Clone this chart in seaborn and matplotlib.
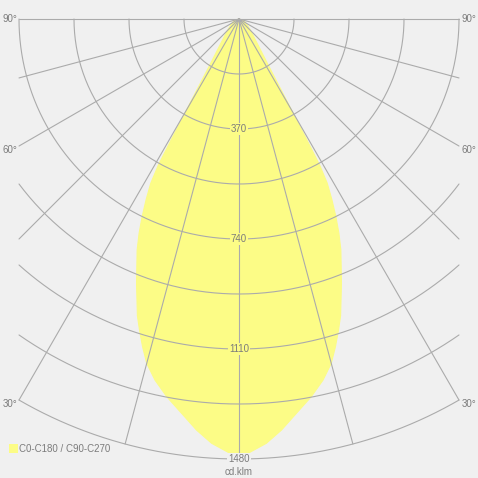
import numpy as np
import pandas as pd
import matplotlib
matplotlib.use("Agg")
import matplotlib.pyplot as plt
import seaborn as sns
from matplotlib.patches import Rectangle

# ---- data ----
angles_deg = [0, 1.2, 3.7, 5.9, 8.3, 10.8, 13.1, 15.0, 16.4, 17.7, 18.9, 21.2, 23.8, 25.0,
              26.1, 27.2, 28.25, 28.9, 29.3, 29.8, 30.7, 32.4, 35.2, 38, 45, 55, 70, 90]
intensity = [1480, 1461, 1430, 1390, 1340, 1294, 1247, 1199, 1149, 1100, 1055, 953, 849, 795,
             741, 684, 627, 561, 467, 372, 278, 183, 121, 90, 55, 33, 18, 0]
ring_values = [185, 370, 555, 740, 925, 1110, 1295, 1480]
ring_labels = ["370", "740", "1110", "1480"]
radial_angles = [-90, -75, -60, -45, -30, -15, 0, 15, 30, 45, 60, 75, 90]
angle_labels = ["90°", "60°", "30°"]
series_label = "C0-C180 / C90-C270"
unit_label = "cd.klm"

BG = "#f0f0f0"
GRID = "#ababab"
FILL = "#fcfc86"
TXT = "#7c7c7c"

sns.set_theme(style="white", rc={"axes.facecolor": BG, "figure.facecolor": BG})
plt.rcParams["font.family"] = ["Liberation Sans", "DejaVu Sans"]

W, H = 478, 478
fig = plt.figure(figsize=(W / 100, H / 100), dpi=100)
ax = fig.add_axes([0, 0, 1, 1])
ax.set_facecolor(BG)
rmax = max(ring_values)
half = rmax / 2  # clip half-width of the diagram
s = rmax / 440.0  # cd per pixel
cx, cy = 239, 19
ax.set_xlim(-cx * s, (W - cx) * s)
ax.set_ylim((cy - H) * s, cy * s)
ax.axis("off")

# ---- light distribution (symmetric) ----
a = np.array(angles_deg)
r = np.array(intensity, dtype=float)
th = np.deg2rad(np.concatenate([-a[::-1], a[1:]]))
rr = np.concatenate([r[::-1], r[1:]])
df = pd.DataFrame({"x": rr * np.sin(th), "y": -rr * np.cos(th)})
ax.fill(df["x"], df["y"], color=FILL, lw=0, zorder=1)
sns.lineplot(data=df, x="x", y="y", sort=False, estimator=None, color=FILL, lw=0.8, ax=ax, zorder=1.5)

# ---- grid ----
for rv in ring_values:
    pmax = np.pi / 2 if rv <= half else np.arcsin(half / rv)
    ph = np.linspace(-pmax, pmax, 300)
    ax.plot(rv * np.sin(ph), -rv * np.cos(ph), color=GRID, lw=0.8, zorder=2)
ends = {}
for ang in radial_angles:
    p = np.deg2rad(ang)
    sp = abs(np.sin(p))
    rend = rmax if sp <= 0.5 else half / sp
    ends[ang] = (rend * np.sin(p), -rend * np.cos(p))
    ax.plot([0, ends[ang][0]], [0, ends[ang][1]], color=GRID, lw=0.8, zorder=2)

# ring labels
for lab in ring_labels:
    v = float(lab)
    fc = BG if v >= rmax else FILL
    ax.text(0, -v, lab, ha="center", va="center", fontsize=7, color=TXT, zorder=3,
            bbox=dict(boxstyle="square,pad=0.12", fc=fc, ec="none"))

# angle labels
offs = {"90°": 0.0, "60°": 3.5, "30°": 3.5}
for lab in angle_labels:
    ang = int(lab[:-1])
    xe, ye = ends[ang]
    yl = ye - offs[lab] * s
    ax.text(-half - 2 * s, yl, lab, ha="right", va="center", fontsize=7, color=TXT)
    ax.text(half + 3 * s, yl, lab, ha="left", va="center", fontsize=7, color=TXT)

# legend
fig.patches.append(Rectangle((9 / W, 1 - 452.7 / H), 8.5 / W, 8.7 / H, transform=fig.transFigure,
                             fc=FILL, ec="none"))
fig.text(19 / W, 1 - 448.5 / H, series_label, ha="left", va="center", fontsize=7, color=TXT)
fig.text(0.5, 1 - 472 / H, unit_label, ha="center", va="center", fontsize=7, color=TXT)

fig.savefig("out.png", dpi=100, facecolor=BG)
